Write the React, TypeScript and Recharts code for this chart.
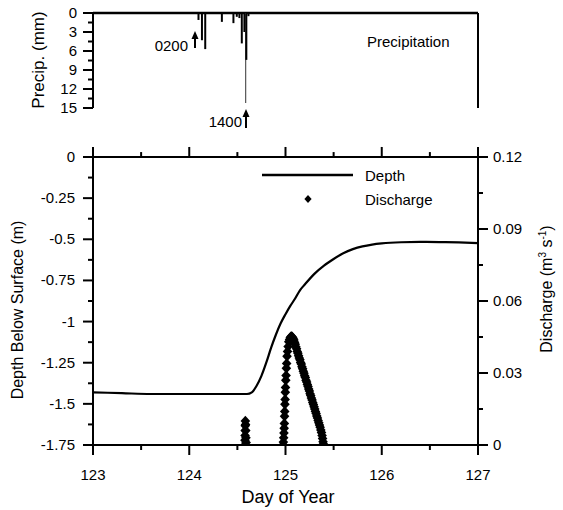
import React from "react";
import { ComposedChart, Line, Scatter, XAxis, YAxis, ReferenceLine } from "recharts";

// precipitation (mm) by day of year
const precipDay = [124.096, 124.132, 124.166, 124.339, 124.459, 124.494, 124.521, 124.546, 124.573, 124.586, 124.593, 124.615];
const precipMm = [1.1, 4.3, 5.7, 1.4, 1.6, 0.6, 0.8, 4.8, 3.0, 14.2, 7.4, 0.5];

// depth below surface (m)
const depthDay = [123.0, 123.3, 123.6, 124.0, 124.3, 124.6, 124.65, 124.7, 124.75, 124.8, 124.85, 124.9, 124.95, 125.0, 125.05, 125.1, 125.15, 125.2, 125.3, 125.4, 125.5, 125.6, 125.7, 125.8, 125.9, 126.0, 126.2, 126.4, 126.6, 126.8, 127.0];
const depthM = [-1.43, -1.435, -1.44, -1.44, -1.44, -1.44, -1.43, -1.39, -1.33, -1.25, -1.16, -1.08, -1.01, -0.955, -0.905, -0.86, -0.81, -0.775, -0.71, -0.66, -0.62, -0.585, -0.56, -0.543, -0.532, -0.525, -0.518, -0.516, -0.517, -0.519, -0.523];

// discharge (m3/s)
const qDay = [
  124.578, 124.579, 124.58, 124.581, 124.582, 124.583, 124.585, 124.587, 124.589, 124.591,
  124.975, 124.978, 124.981, 124.984, 124.986, 124.988, 124.99, 124.992, 124.994, 124.996, 124.998,
  125.0, 125.003, 125.006, 125.009, 125.012, 125.016, 125.021, 125.027, 125.034, 125.042,
  125.05, 125.058, 125.066, 125.074,
  125.08, 125.087, 125.094, 125.101, 125.108, 125.115, 125.122, 125.129, 125.136, 125.143,
  125.15, 125.157, 125.164, 125.171, 125.178, 125.185, 125.192, 125.199, 125.206, 125.213,
  125.22, 125.227, 125.234, 125.241, 125.248, 125.255, 125.262, 125.269, 125.276, 125.283,
  125.29, 125.297, 125.304, 125.311, 125.318, 125.325, 125.332, 125.339, 125.346, 125.353,
  125.36, 125.367, 125.374, 125.38, 125.385, 125.39, 125.394,
];
const qVal = [
  0.0, 0.002, 0.004, 0.006, 0.008, 0.01, 0.0085, 0.006, 0.003, 0.001,
  0.0, 0.0012, 0.003, 0.005, 0.007, 0.009, 0.012, 0.014, 0.017, 0.019, 0.022,
  0.024, 0.027, 0.029, 0.032, 0.034, 0.037, 0.039, 0.041, 0.043, 0.044,
  0.0448, 0.0452, 0.0452, 0.0448,
  0.0443, 0.0437, 0.0428, 0.042, 0.0409, 0.0401, 0.039, 0.0382, 0.0372, 0.0363,
  0.0355, 0.0344, 0.0337, 0.0326, 0.0318, 0.0307, 0.0299, 0.0289, 0.0281, 0.027,
  0.0262, 0.0252, 0.0244, 0.0233, 0.0225, 0.0214, 0.0206, 0.0196, 0.0188, 0.0177,
  0.0169, 0.0159, 0.015, 0.014, 0.0131, 0.0121, 0.0112, 0.0102, 0.0093, 0.0083,
  0.0074, 0.0063, 0.0052, 0.004, 0.0027, 0.0014, 0.0004,
];

const dayTicks = [123, 123.5, 124, 124.5, 125, 125.5, 126, 126.5, 127];
const depthTicks = [0, -0.125, -0.25, -0.375, -0.5, -0.625, -0.75, -0.875, -1, -1.125, -1.25, -1.375, -1.5, -1.625, -1.75];
const qTicks = [0, 0.015, 0.03, 0.045, 0.06, 0.075, 0.09, 0.105, 0.12];
const precipTicks = [0, 1.5, 3, 4.5, 6, 7.5, 9, 10.5, 12, 13.5, 15];

// both panels share one plot area; the upper axes reach past the panel they label
const depthDomain = [-1.75, 0.875];
const qDomain = [0, 0.18];
const precipDomain = [0, 68.2];

const precipData = precipDay.map((d, i) => ({ day: d, mm: precipMm[i] }));
const depthData = depthDay.map((d, i) => ({ day: d, depth: depthM[i] }));
const qData = qDay.map((d, i) => ({ day: d, q: qVal[i] }));

const FONT = '"Liberation Sans", Arial, Helvetica, sans-serif';

const isMajor = (v: number, step: number) => Math.abs(v / step - Math.round(v / step)) < 1e-6;

const leftTick = (step: number, gap: number) => (props: any) => {
  const { x, y, payload } = props;
  const major = isMajor(payload.value, step);
  return (
    <g>
      <line x1={x - (major ? 10 : 5)} x2={x} y1={y} y2={y} stroke="#000" strokeWidth={2} />
      {major && (
        <text x={x - gap} y={y} dy={5} textAnchor="end" fontSize={15} fontFamily={FONT} fill="#000">
          {String(payload.value)}
        </text>
      )}
    </g>
  );
};

const rightTick = (props: any) => {
  const { x, y, payload } = props;
  const major = isMajor(payload.value, 0.03);
  return (
    <g>
      <line x1={x} x2={x + (major ? 10 : 5)} y1={y} y2={y} stroke="#000" strokeWidth={2} />
      {major && (
        <text x={x + 15} y={y} dy={5} textAnchor="start" fontSize={15} fontFamily={FONT} fill="#000">
          {String(payload.value)}
        </text>
      )}
    </g>
  );
};

const bottomTick = (props: any) => {
  const { x, y, payload } = props;
  const major = isMajor(payload.value, 1);
  return (
    <g>
      <line x1={x} x2={x} y1={y} y2={y + (major ? 10 : 5)} stroke="#000" strokeWidth={2} />
      {major && (
        <text x={x} y={y + 35} textAnchor="middle" fontSize={15} fontFamily={FONT} fill="#000">
          {String(payload.value)}
        </text>
      )}
    </g>
  );
};

const Diamond = (props: any) => {
  const { cx, cy } = props;
  return <path d={`M${cx},${cy - 5.2}L${cx + 4.8},${cy}L${cx},${cy + 5.2}L${cx - 4.8},${cy}Z`} fill="#000" />;
};

const NoMark = () => <g />;

export default function App() {
  return (
    <div style={{ position: "absolute", left: 0, top: 0, width: 563, height: 510, background: "#fff", fontFamily: FONT }}>
      <ComposedChart width={563} height={510} margin={{ top: 13, right: 0, bottom: 0, left: 0 }}>
        <XAxis
          xAxisId="b"
          type="number"
          dataKey="day"
          domain={[123, 127]}
          ticks={dayTicks}
          interval={0}
          height={65}
          tickSize={0}
          tickMargin={0}
          tickLine={false}
          tick={bottomTick}
          axisLine={{ stroke: "#000", strokeWidth: 2 }}
        />
        <YAxis
          yAxisId="p"
          mirror
          reversed
          allowDataOverflow
          domain={precipDomain}
          ticks={precipTicks}
          interval={0}
          width={10}
          tickSize={0}
          tickMargin={0}
          tickLine={false}
          tick={leftTick(3, 16)}
          axisLine={false}
        />
        <YAxis
          yAxisId="d"
          allowDataOverflow
          domain={depthDomain}
          ticks={depthTicks}
          interval={0}
          width={93}
          tickSize={0}
          tickMargin={0}
          tickLine={false}
          tick={leftTick(0.25, 18)}
          axisLine={false}
        />
        <YAxis
          yAxisId="q"
          orientation="right"
          allowDataOverflow
          domain={qDomain}
          ticks={qTicks}
          interval={0}
          width={85}
          tickSize={0}
          tickMargin={0}
          tickLine={false}
          tick={rightTick}
          axisLine={false}
        />

        {/* keeps the precipitation axis bound to its data */}
        <Scatter xAxisId="b" yAxisId="p" data={precipData} dataKey="mm" shape={NoMark} isAnimationActive={false} />

        {/* precipitation panel frame and bars */}
        <ReferenceLine xAxisId="b" yAxisId="p" y={0} stroke="#000" strokeWidth={2.5} />
        <ReferenceLine xAxisId="b" yAxisId="p" segment={[{ x: 123, y: 0 }, { x: 123, y: 15 }]} stroke="#000" strokeWidth={2} />
        <ReferenceLine xAxisId="b" yAxisId="p" segment={[{ x: 127, y: 0 }, { x: 127, y: 15 }]} stroke="#000" strokeWidth={2} />
        {precipDay.map((d, i) => (
          <ReferenceLine
            key={`p${i}`}
            xAxisId="b"
            yAxisId="p"
            segment={[{ x: d, y: 0 }, { x: d, y: precipMm[i] }]}
            stroke={precipMm[i] > 10 ? "#555" : "#000"}
            strokeWidth={precipMm[i] > 10 ? 1.2 : 2}
          />
        ))}

        {/* main panel frame */}
        <ReferenceLine xAxisId="b" yAxisId="d" y={0} stroke="#000" strokeWidth={2} />
        <ReferenceLine xAxisId="b" yAxisId="d" segment={[{ x: 123, y: -1.75 }, { x: 123, y: 0 }]} stroke="#000" strokeWidth={2} />
        <ReferenceLine xAxisId="b" yAxisId="q" segment={[{ x: 127, y: 0 }, { x: 127, y: 0.12 }]} stroke="#000" strokeWidth={2} />
        {dayTicks.map((d) => (
          <ReferenceLine
            key={`t${d}`}
            xAxisId="b"
            yAxisId="d"
            segment={[{ x: d, y: 0 }, { x: d, y: isMajor(d, 1) ? 0.061 : 0.03 }]}
            stroke="#000"
            strokeWidth={2}
          />
        ))}

        <Line
          xAxisId="b"
          yAxisId="d"
          data={depthData}
          dataKey="depth"
          type="monotone"
          dot={false}
          stroke="#000"
          strokeWidth={2.2}
          isAnimationActive={false}
        />
        <Scatter xAxisId="b" yAxisId="q" data={qData} dataKey="q" shape={Diamond} isAnimationActive={false} />
      </ComposedChart>

      <svg width={563} height={510} style={{ position: "absolute", left: 0, top: 0, pointerEvents: "none" }} fontFamily={FONT}>
        {/* top panel annotations */}
        <text transform="translate(44,60) rotate(-90)" textAnchor="middle" fontSize={17} fill="#000">
          Precip. (mm)
        </text>
        <text x={367} y={47} fontSize={15} fill="#000">
          Precipitation
        </text>
        <text x={188} y={51} textAnchor="end" fontSize={15} fill="#000">
          0200
        </text>
        <line x1={195} x2={195} y1={37} y2={48} stroke="#000" strokeWidth={2} />
        <path d="M195,31L191.5,39L198.5,39Z" fill="#000" />
        <text x={242} y={127} textAnchor="end" fontSize={15} fill="#000">
          1400
        </text>
        <line x1={246} x2={246} y1={115} y2={128} stroke="#000" strokeWidth={2} />
        <path d="M246,109L242.5,117L249.5,117Z" fill="#000" />

        {/* main panel titles */}
        <text transform="translate(23,310) rotate(-90)" textAnchor="middle" fontSize={16} fill="#000">
          Depth Below Surface  (m)
        </text>
        <text transform="translate(552,289) rotate(-90)" textAnchor="middle" fontSize={16} fill="#000">
          Discharge (m<tspan dy={-6} fontSize={10}>3</tspan>
          <tspan dy={6}> s</tspan>
          <tspan dy={-6} fontSize={10}>-1</tspan>
          <tspan dy={6}>)</tspan>
        </text>
        <text x={288} y={503} textAnchor="middle" fontSize={18} fill="#000">
          Day of Year
        </text>

        {/* legend */}
        <line x1={262} x2={353} y1={175} y2={175} stroke="#000" strokeWidth={2.5} />
        <text x={365} y={181} fontSize={15} fill="#000">
          Depth
        </text>
        <path d="M308,195L311.6,199L308,203L304.4,199Z" fill="#000" />
        <text x={365} y={205} fontSize={15} fill="#000">
          Discharge
        </text>
      </svg>
    </div>
  );
}
